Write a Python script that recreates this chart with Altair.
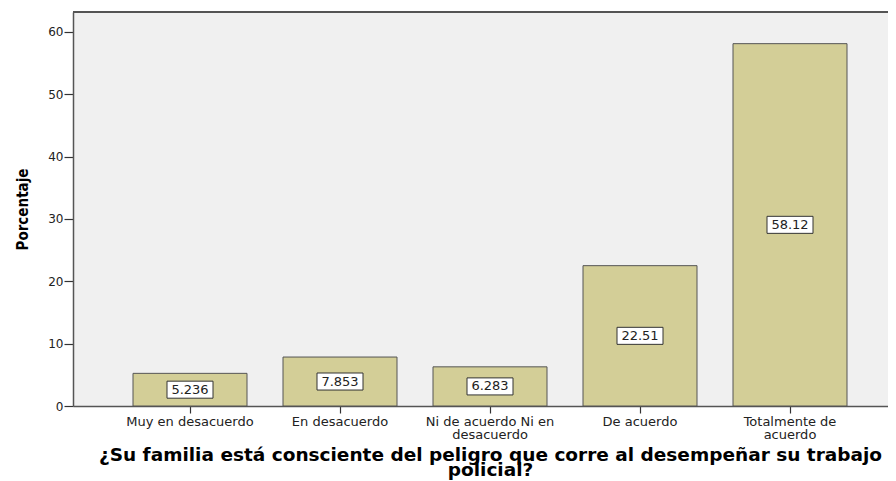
import altair as alt
import pandas as pd

categories = ["Muy en desacuerdo", "En desacuerdo", "Ni de acuerdo Ni en desacuerdo",
              "De acuerdo", "Totalmente de acuerdo"]
percentages = [5.236, 7.853, 6.283, 22.51, 58.12]
value_labels = ["5.236", "7.853", "6.283", "22.51", "58.12"]
y_ticks = [0, 10, 20, 30, 40, 50, 60]
question = ["¿Su familia está consciente del peligro que corre al desempeñar  su trabajo", "policial?"]

df = pd.DataFrame({"cat": categories, "pct": percentages, "lab": value_labels})
df["mid"] = df["pct"] / 2

label_expr = ("datum.label == 'Ni de acuerdo Ni en desacuerdo' ? ['Ni de acuerdo Ni en', 'desacuerdo'] : "
              "datum.label == 'Totalmente de acuerdo' ? ['Totalmente de', 'acuerdo'] : datum.label")

x_enc = alt.X(
    "cat:N", sort=categories,
    scale=alt.Scale(range=[0, 834], paddingInner=0.24, paddingOuter=0.4),
    axis=alt.Axis(
        labelAngle=0, labelExpr=label_expr, labelFont="DejaVu Sans", labelFontSize=13,
        labelColor="#222", labelLineHeight=13, labelPadding=2,
        tickSize=7, tickColor="#333", tickWidth=1.2,
        domainColor="#555", domainWidth=1.5,
        title=question, titleFont="DejaVu Sans", titleFontSize=18.5, titleFontWeight="bold",
        titleColor="#000", titleLineHeight=15, titlePadding=4,
    ),
)
y_scale = alt.Scale(domain=[0, 63.2], nice=False)

bars = alt.Chart(df).mark_bar(color="#D3CE97", stroke="#555", strokeWidth=1).encode(
    x=x_enc,
    y=alt.Y("pct:Q", scale=y_scale, axis=alt.Axis(
        values=y_ticks, grid=False, tickSize=9, tickColor="#333", tickWidth=1.2,
        labelFont="DejaVu Sans", labelFontSize=12, labelColor="#222", labelPadding=1,
        domainColor="#555", domainWidth=1.5,
        title="Porcentaje", titleFont="'DejaVu Sans Condensed', 'Liberation Sans', sans-serif",
        titleFontSize=15, titleFontWeight="bold", titleColor="#000", titleAngle=270,
        titleX=-51, titleY=197, titleAlign="center", titleBaseline="middle",
    )),
)

boxes = alt.Chart(df).mark_point(
    shape="M-1,-0.37L1,-0.37L1,0.37L-1,0.37Z", size=2116, filled=True,
    fill="white", stroke="#333", strokeWidth=1, opacity=1,
).encode(x=alt.X("cat:N", sort=categories), y=alt.Y("mid:Q", scale=y_scale))

texts = alt.Chart(df).mark_text(font="DejaVu Sans", fontSize=13, color="#222").encode(
    x=alt.X("cat:N", sort=categories), y=alt.Y("mid:Q", scale=y_scale), text="lab:N"
)

top_rule = alt.Chart(df).mark_rule(color="#555", strokeWidth=1.5).encode(y=alt.value(0))

chart = alt.layer(bars, boxes, texts, top_rule).properties(
    width=815, height=394,
    autosize=alt.AutoSizeParams(type="none"),
    padding={"left": 65, "top": 4, "right": 0, "bottom": 75},
    title=alt.TitleParams(text=question, font="DejaVu Sans", fontSize=18.5, fontWeight="bold",
                          anchor="middle", baseline="bottom", offset=1, dx=-31, lineHeight=15,
                          color="#000"),
).configure_view(stroke=None, fill="#F0F0F0")

chart.save("out.html", embed_options={"renderer": "svg", "actions": False})
